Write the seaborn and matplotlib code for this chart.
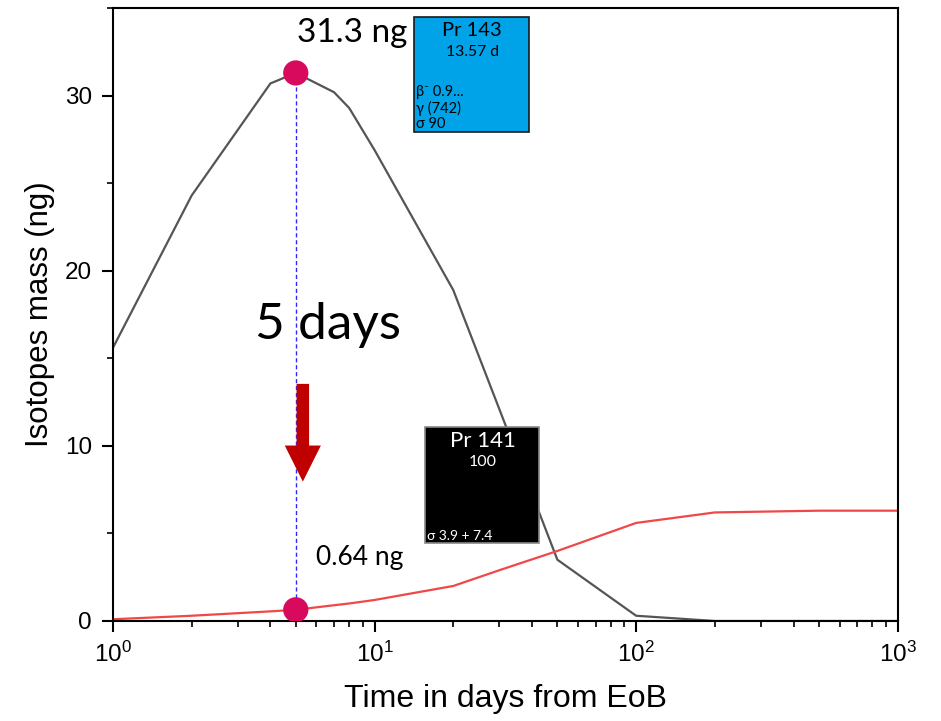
import matplotlib
matplotlib.use("Agg")
import matplotlib.pyplot as plt
from matplotlib.patches import Rectangle
from matplotlib.ticker import LogLocator, NullFormatter, FixedLocator, MultipleLocator
import seaborn as sns
import pandas as pd
import numpy as np

# Data
days = [1, 2, 4, 5, 7, 8, 10, 20, 30, 50, 100, 200, 500, 1000]
pr143_ng = [15.6, 24.3, 30.7, 31.3, 30.2, 29.3, 26.9, 18.9, 12.1, 3.5, 0.3, 0.0, 0.0, 0.0]
pr141_ng = [0.1, 0.3, 0.55, 0.64, 0.9, 1.0, 1.2, 2.0, 2.9, 4.0, 5.6, 6.2, 6.3, 6.3]
peak_day = 5
peak_values = [31.3, 0.64]
peak_labels = ["31.3 ng", "0.64 ng"]
x_ticks = [1, 10, 100, 1000]
x_ticklabels = ["$10^0$", "$10^1$", "$10^2$", "$10^3$"]
y_ticks = [0, 10, 20, 30]

sns.set_style("white")
plt.rcParams['font.family'] = ['Liberation Sans', 'DejaVu Sans']
plt.rcParams['mathtext.fontset'] = 'custom'
plt.rcParams['mathtext.rm'] = 'Liberation Sans'
plt.rcParams['mathtext.it'] = 'Liberation Sans'
plt.rcParams['text.color'] = 'black'
plt.rcParams['axes.labelcolor'] = 'black'
plt.rcParams['xtick.color'] = 'black'
plt.rcParams['ytick.color'] = 'black'

df = pd.DataFrame({"day": days * 2,
                   "mass": pr143_ng + pr141_ng,
                   "iso": ["Pr 143"] * len(days) + ["Pr 141"] * len(days)})

fig = plt.figure(figsize=(9.41, 7.21), dpi=100)
ax = fig.add_axes([0.120, 0.1387, 0.834, 0.850])

sns.lineplot(data=df, x="day", y="mass", hue="iso",
             palette={"Pr 143": "#555555", "Pr 141": "#f04848"},
             linewidth=1.6, legend=False, ax=ax, zorder=2)

ax.set_xscale("log")
ax.set_xlim(1, 1000)
ax.set_ylim(0, 35)
ax.xaxis.set_major_locator(FixedLocator(x_ticks))
ax.set_xticklabels(x_ticklabels)
ax.xaxis.set_minor_locator(LogLocator(base=10, subs=np.arange(2, 10)))
ax.xaxis.set_minor_formatter(NullFormatter())
ax.set_yticks(y_ticks)
ax.yaxis.set_minor_locator(MultipleLocator(5))

for s in ax.spines.values():
    s.set_color("black")
    s.set_linewidth(1.5)
ax.tick_params(axis="both", which="major", direction="out", length=8, width=1.5,
               labelsize=17.5, bottom=True, left=True, top=False, right=False, pad=7)
ax.tick_params(axis="both", which="minor", direction="out", length=4, width=1.2,
               bottom=True, left=True, top=False, right=False)

ax.set_xlabel("Time in days from EoB", fontsize=23)
ax.set_ylabel("Isotopes mass (ng)", fontsize=22.5)
ax.xaxis.set_label_coords(0.5, -0.103)
ax.yaxis.set_label_coords(-0.074, 0.5)

# dashed vertical line and peak markers
ax.plot([peak_day, peak_day], peak_values, linestyle=(0, (3, 2)), color="#2a2aff",
        linewidth=1.0, zorder=3)
ax.scatter([peak_day, peak_day], peak_values, s=330, color="#d80a5e", zorder=4,
           marker="o", edgecolors="none")

lbl_font = ['Lato', 'DejaVu Sans']
ax.text(5.05, 33.6, peak_labels[0], fontsize=24, family=lbl_font, ha="left", va="center")
ax.text(5.97, 3.65, peak_labels[1], fontsize=19, family=lbl_font, ha="left", va="center")
ax.text(6.63, 16.9, "5 days", fontsize=37, family=lbl_font, ha="center", va="center")

# red arrow
ax.annotate("", xy=(5.32, 7.8), xytext=(5.32, 13.7),
            arrowprops=dict(arrowstyle="simple,head_length=1.3,head_width=1.3,tail_width=0.45",
                            mutation_scale=20, color="#c00000", lw=0), zorder=5)

# nuclide boxes (figure pixel coordinates converted to fractions)
W, H = 941, 721
def box(x0, y0, x1, y1, fc, ec):
    r = Rectangle((x0 / W, 1 - y1 / H), (x1 - x0) / W, (y1 - y0) / H,
                  transform=fig.transFigure, facecolor=fc, edgecolor=ec, linewidth=1.2,
                  zorder=6)
    fig.add_artist(r)

def t(x, y, s, size, color, ha="center"):
    fig.text(x / W, 1 - y / H, s, fontsize=size, color=color, ha=ha, va="center",
             family=['Lato', 'DejaVu Sans'], zorder=7)

box(414, 17, 529, 132, "#00a2e8", "#1a1a1a")
t(472, 31, "Pr 143", 14.5, "black")
t(472, 52, "13.57 d", 11.3, "black")
t(416, 92, "β⁻ 0.9...", 10.5, "black", ha="left")
t(416, 108, "γ (742)", 10.5, "black", ha="left")
t(416, 124, "σ 90", 10.5, "black", ha="left")

box(425, 427, 539, 543, "black", "#888888")
t(483, 441, "Pr 141", 16, "white")
t(483, 462, "100", 11.5, "white")
t(427, 536, "σ 3.9 + 7.4", 10, "white", ha="left")

fig.savefig("out.png", dpi=100)
